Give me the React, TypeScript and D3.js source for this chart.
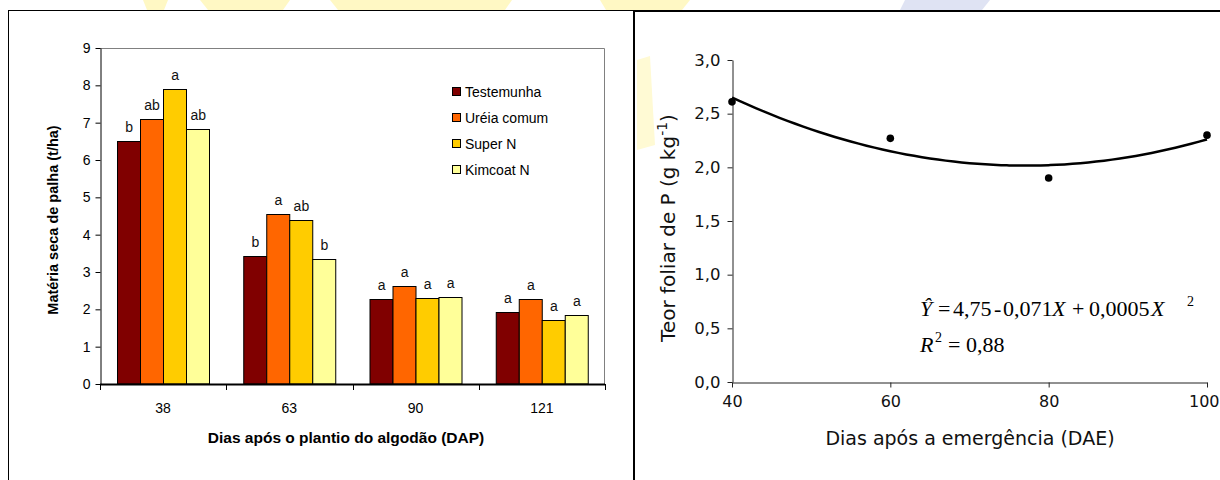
import React, { useEffect, useRef } from "react";
import * as d3 from "d3";

// left chart: dry matter of straw by days after planting
const dapCategories = ["38", "63", "90", "121"];
const treatments = ["Testemunha", "Uréia comum", "Super N", "Kimcoat N"];
const treatmentColors = ["#800000", "#FF6600", "#FFCC00", "#FFFF99"];
const palhaValues = [
  [6.52, 7.09, 7.9, 6.82],
  [3.43, 4.55, 4.39, 3.36],
  [2.28, 2.62, 2.3, 2.34],
  [1.94, 2.28, 1.71, 1.84],
];
const palhaLetters = [
  ["b", "ab", "a", "ab"],
  ["b", "a", "ab", "b"],
  ["a", "a", "a", "a"],
  ["a", "a", "a", "a"],
];
const palhaTicks = [0, 1, 2, 3, 4, 5, 6, 7, 8, 9];

// right chart: leaf P content by days after emergence
const daeValues = [40, 60, 80, 100];
const teorP = [2.61, 2.27, 1.9, 2.3];
const teorTicks = [0, 0.5, 1, 1.5, 2, 2.5, 3];
const daeTicks = [40, 60, 80, 100];

// quadratic least squares fit, used for the trend line
function quadFit(xs: number[], ys: number[]) {
  const mx = d3.mean(xs) as number;
  const u = xs.map((x) => x - mx);
  const n = xs.length;
  const s2 = d3.sum(u, (v) => v * v);
  const s3 = d3.sum(u, (v) => v * v * v);
  const s4 = d3.sum(u, (v) => v * v * v * v);
  const sy = d3.sum(ys);
  const suy = d3.sum(u, (v, i) => v * ys[i]);
  const su2y = d3.sum(u, (v, i) => v * v * ys[i]);
  // solve 3x3 normal equations (s1 = 0)
  const A = [
    [n, 0, s2],
    [0, s2, s3],
    [s2, s3, s4],
  ];
  const B = [sy, suy, su2y];
  const det = (m: number[][]) =>
    m[0][0] * (m[1][1] * m[2][2] - m[1][2] * m[2][1]) -
    m[0][1] * (m[1][0] * m[2][2] - m[1][2] * m[2][0]) +
    m[0][2] * (m[1][0] * m[2][1] - m[1][1] * m[2][0]);
  const D = det(A);
  const coef = [0, 1, 2].map((k) => det(A.map((row, i) => row.map((v, j) => (j === k ? B[i] : v)))) / D);
  return (x: number) => coef[0] + coef[1] * (x - mx) + coef[2] * (x - mx) * (x - mx);
}

const App = () => {
  const svgRef = useRef<SVGSVGElement>(null);

  useEffect(() => {
    const svg = d3.select(svgRef.current);
    svg.selectAll("*").remove();

    const arial = "'Liberation Sans', Arial, sans-serif";
    const verdana = "'DejaVu Sans', Verdana, sans-serif";

    // faint watermark
    const wm = svg.append("g");
    wm.append("polygon").attr("points", "143,0 168,0 164,10 147,10").attr("fill", "#FFF8C4");
    wm.append("polygon").attr("points", "200,0 290,0 283,10 208,10").attr("fill", "#FFF8C4");
    wm.append("polygon").attr("points", "330,0 512,0 505,10 338,10").attr("fill", "#FFF8C4");
    wm.append("polygon").attr("points", "600,0 690,0 682,10 606,10").attr("fill", "#FFF8C4");
    wm.append("polygon").attr("points", "637,60 650,56 655,145 637,150").attr("fill", "#FFFAD4");
    wm.append("polygon").attr("points", "905,0 990,0 982,10 900,10").attr("fill", "#DFE3F3");

    // panel frames
    svg.append("line").attr("x1", 8).attr("x2", 634).attr("y1", 10.5).attr("y2", 10.5).attr("stroke", "#000");
    svg.append("line").attr("x1", 8.5).attr("x2", 8.5).attr("y1", 10).attr("y2", 480).attr("stroke", "#000");
    svg.append("line").attr("x1", 634).attr("x2", 1220).attr("y1", 11).attr("y2", 11).attr("stroke", "#000").attr("stroke-width", 2);
    svg.append("line").attr("x1", 634).attr("x2", 634).attr("y1", 10).attr("y2", 480).attr("stroke", "#000").attr("stroke-width", 2);

    // ---------- left chart ----------
    const x0 = d3.scaleBand().domain(dapCategories).range([100, 605]);
    const x1 = d3.scaleBand().domain(treatments).range([0, x0.bandwidth()]).paddingOuter(0.74);
    const y = d3.scaleLinear().domain([0, 9]).range([384, 48]);

    const left = svg.append("g");

    // plot area border (top/right)
    left.append("path").attr("d", `M100,48.5H604.5V384`).attr("fill", "none").attr("stroke", "#808080");

    const groups = left
      .selectAll("g.grp")
      .data(palhaValues)
      .enter()
      .append("g")
      .attr("class", "grp")
      .attr("transform", (d, i) => `translate(${x0(dapCategories[i])},0)`);

    groups
      .selectAll("rect")
      .data((d) => d)
      .enter()
      .append("rect")
      .attr("x", (d, j) => Math.round(x1(treatments[j]) as number) + 0.5)
      .attr("width", Math.round(x1.bandwidth()))
      .attr("y", (d) => Math.round(y(d)) + 0.5)
      .attr("height", (d) => 384 - Math.round(y(d)) - 0.5)
      .attr("fill", (d, j) => treatmentColors[j])
      .attr("stroke", "#000")
      .attr("stroke-width", 1);

    groups
      .selectAll("text")
      .data((d, i) => d.map((v, j) => ({ v, j, letter: palhaLetters[i][j] })))
      .enter()
      .append("text")
      .attr("x", (d) => (x1(treatments[d.j]) as number) + x1.bandwidth() / 2 + 0.5)
      .attr("y", (d) => y(d.v) - 9)
      .attr("text-anchor", "middle")
      .style("font-family", arial)
      .style("font-size", "14px")
      .style("fill", "#111")
      .text((d) => d.letter);

    // y axis
    const yAxis = left
      .append("g")
      .attr("transform", "translate(100.5,0)")
      .call(d3.axisLeft(y).tickValues(palhaTicks).tickSize(5).tickSizeOuter(0).tickPadding(5));
    yAxis.select(".domain").attr("stroke", "#000");
    yAxis.selectAll("text").style("font-family", arial).style("font-size", "14px").attr("fill", "#000");

    // x axis: ticks at category boundaries
    left.append("line").attr("x1", 100).attr("x2", 605).attr("y1", 384.5).attr("y2", 384.5).attr("stroke", "#000").attr("stroke-width", 2);
    const bounds = dapCategories.map((c) => x0(c) as number).concat([605]);
    left
      .selectAll("line.xt")
      .data(bounds)
      .enter()
      .append("line")
      .attr("class", "xt")
      .attr("x1", (d) => Math.round(d) + 0.5)
      .attr("x2", (d) => Math.round(d) + 0.5)
      .attr("y1", 384)
      .attr("y2", 390)
      .attr("stroke", "#000");
    left
      .selectAll("text.xl")
      .data(dapCategories)
      .enter()
      .append("text")
      .attr("class", "xl")
      .attr("x", (d) => (x0(d) as number) + x0.bandwidth() / 2)
      .attr("y", 413)
      .attr("text-anchor", "middle")
      .style("font-family", arial)
      .style("font-size", "14px")
      .text((d) => d);

    left
      .append("text")
      .attr("x", 346)
      .attr("y", 443)
      .attr("text-anchor", "middle")
      .style("font-family", arial)
      .style("font-size", "15.5px")
      .style("font-weight", "bold")
      .text("Dias após o plantio do algodão (DAP)");

    left
      .append("text")
      .attr("transform", "translate(58,220) rotate(-90)")
      .attr("text-anchor", "middle")
      .style("font-family", arial)
      .style("font-size", "14.5px")
      .style("font-weight", "bold")
      .text("Matéria seca de palha (t/ha)");

    // legend
    const legend = left
      .selectAll("g.leg")
      .data(treatments)
      .enter()
      .append("g")
      .attr("class", "leg")
      .attr("transform", (d, i) => `translate(452,${92 + i * 26})`);
    legend
      .append("rect")
      .attr("x", 0.5)
      .attr("y", -4.5)
      .attr("width", 8)
      .attr("height", 8)
      .attr("fill", (d, i) => treatmentColors[i])
      .attr("stroke", "#000");
    legend
      .append("text")
      .attr("x", 13)
      .attr("y", 5)
      .style("font-family", arial)
      .style("font-size", "14px")
      .text((d) => d);

    // ---------- right chart ----------
    const xr = d3.scaleLinear().domain([40, 100]).range([732, 1207]);
    const yr = d3.scaleLinear().domain([0, 3]).range([382, 60]);
    const right = svg.append("g");
    const fmt = (v: number) => d3.format(".1f")(v).replace(".", ",");

    const ryAxis = right
      .append("g")
      .attr("transform", "translate(732.5,0)")
      .call(d3.axisLeft(yr).tickValues(teorTicks).tickFormat((d) => fmt(d as number)).tickSize(5).tickSizeOuter(0).tickPadding(7));
    ryAxis.select(".domain").attr("stroke", "#222");
    ryAxis.selectAll("line").attr("stroke", "#222");
    ryAxis.selectAll("text").style("font-family", verdana).style("font-size", "16.5px").attr("fill", "#111");

    const rxAxis = right
      .append("g")
      .attr("transform", "translate(0,382.5)")
      .call(d3.axisBottom(xr).tickValues(daeTicks).tickSize(5).tickSizeOuter(0).tickPadding(8));
    rxAxis.select(".domain").attr("stroke", "#222");
    rxAxis.selectAll("line").attr("stroke", "#222");
    rxAxis
      .selectAll("text")
      .style("font-family", verdana)
      .style("font-size", "16px")
      .attr("fill", "#111")
      // keep the last label inside the page
      .attr("text-anchor", (d) => ((d as number) === 100 ? "end" : "middle"))
      .attr("dx", (d) => ((d as number) === 100 ? 12 : 0));

    right
      .append("text")
      .attr("x", 970)
      .attr("y", 445)
      .attr("text-anchor", "middle")
      .style("font-family", verdana)
      .style("font-size", "19px")
      .style("fill", "#111")
      .text("Dias após a emergência (DAE)");

    const yTitle = right
      .append("text")
      .attr("transform", "translate(675,228) rotate(-90)")
      .attr("text-anchor", "middle")
      .style("font-family", verdana)
      .style("font-size", "20px")
      .style("fill", "#111");
    yTitle.append("tspan").text("Teor foliar de P (g kg");
    yTitle.append("tspan").attr("dy", -8).style("font-size", "14px").text("-1");
    yTitle.append("tspan").attr("dy", 8).text(")");

    // trend line
    const fit = quadFit(daeValues, teorP);
    const line = d3
      .line<number>()
      .x((d) => xr(d))
      .y((d) => yr(fit(d)))
      .curve(d3.curveBasis);
    right
      .append("path")
      .attr("d", line(d3.range(40, 100.01, 1)))
      .attr("fill", "none")
      .attr("stroke", "#000")
      .attr("stroke-width", 2.5);

    right
      .selectAll("circle")
      .data(daeValues)
      .enter()
      .append("circle")
      .attr("cx", (d) => xr(d))
      .attr("cy", (d, i) => yr(teorP[i]))
      .attr("r", 3.8)
      .attr("fill", "#000");

    // equation (MathType style spacing)
    const serif = "'Liberation Serif', 'Times New Roman', serif";
    const eq = right
      .append("text")
      .attr("y", 316)
      .style("font-family", serif)
      .style("font-size", "22px");
    eq.append("tspan").attr("x", 920).style("font-style", "italic").text("Ŷ");
    eq.append("tspan").attr("x", 938).text("=");
    eq.append("tspan").attr("x", 953).text("4,75");
    eq.append("tspan").attr("x", 994).text("-");
    eq.append("tspan").attr("x", 1003).text("0,071");
    eq.append("tspan").attr("x", 1052).style("font-style", "italic").text("X");
    eq.append("tspan").attr("x", 1072).text("+");
    eq.append("tspan").attr("x", 1089).text("0,0005");
    eq.append("tspan").attr("x", 1151).style("font-style", "italic").text("X");
    eq.append("tspan").attr("x", 1187).attr("dy", -10).style("font-size", "14px").text("2");

    const r2 = right
      .append("text")
      .attr("y", 352)
      .style("font-family", serif)
      .style("font-size", "22px");
    r2.append("tspan").attr("x", 920).style("font-style", "italic").text("R");
    r2.append("tspan").attr("x", 935).attr("dy", -10).style("font-size", "14px").text("2");
    r2.append("tspan").attr("x", 948).attr("dy", 10).text("=");
    r2.append("tspan").attr("x", 966).text("0,88");
  }, []);

  return (
    <svg
      ref={svgRef}
      width={1220}
      height={480}
      style={{ position: "absolute", left: 0, top: 0, background: "#fff" }}
    />
  );
};

export default App;
